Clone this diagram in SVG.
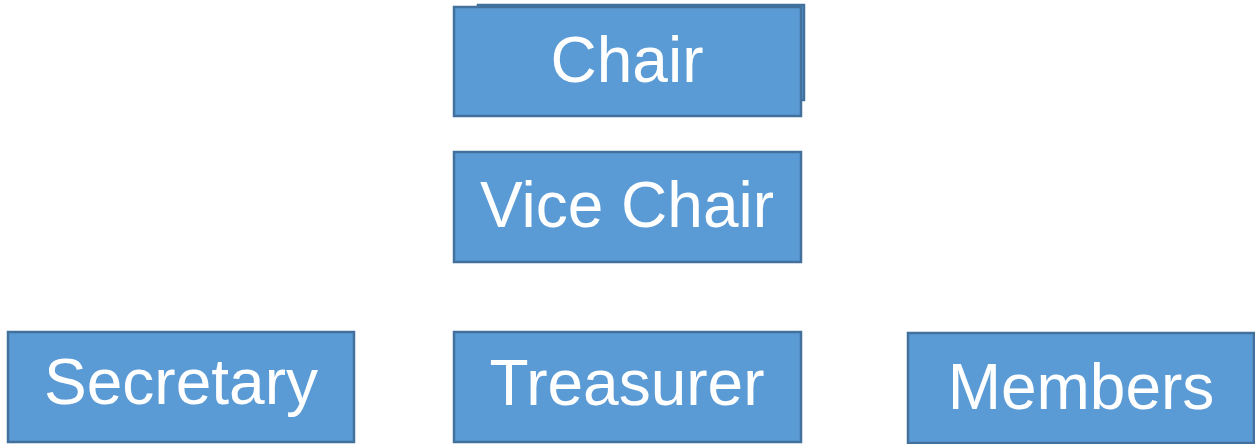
<svg xmlns="http://www.w3.org/2000/svg" width="1255" height="444" viewBox="0 0 1255 444">
<style>
.box{fill:#5B9BD5;stroke:#41719C;stroke-width:2.5}
.lbl{font-family:"Liberation Sans",Arial,sans-serif;font-size:64px;fill:#FFFFFF;text-anchor:middle}
</style>
<rect width="1255" height="444" fill="#FFFFFF"/>
<g id="connectors"></g>
<g id="chair">
<rect class="box" x="478" y="5" width="326" height="95"/>
<rect class="box" x="454" y="7" width="347" height="109"/>
<text class="lbl" x="627" y="82">Chair</text>
</g>
<g id="vice-chair">
<rect class="box" x="454" y="152" width="347" height="110"/>
<text class="lbl" x="627" y="227">Vice Chair</text>
</g>
<g id="secretary">
<rect class="box" x="8" y="332" width="346" height="110"/>
<text class="lbl" x="181" y="404">Secretary</text>
</g>
<g id="treasurer">
<rect class="box" x="454" y="332" width="347" height="110"/>
<text class="lbl" x="627" y="405">Treasurer</text>
</g>
<g id="members">
<rect class="box" x="908" y="333" width="346" height="110"/>
<text class="lbl" x="1081" y="409">Members</text>
</g>
</svg>
